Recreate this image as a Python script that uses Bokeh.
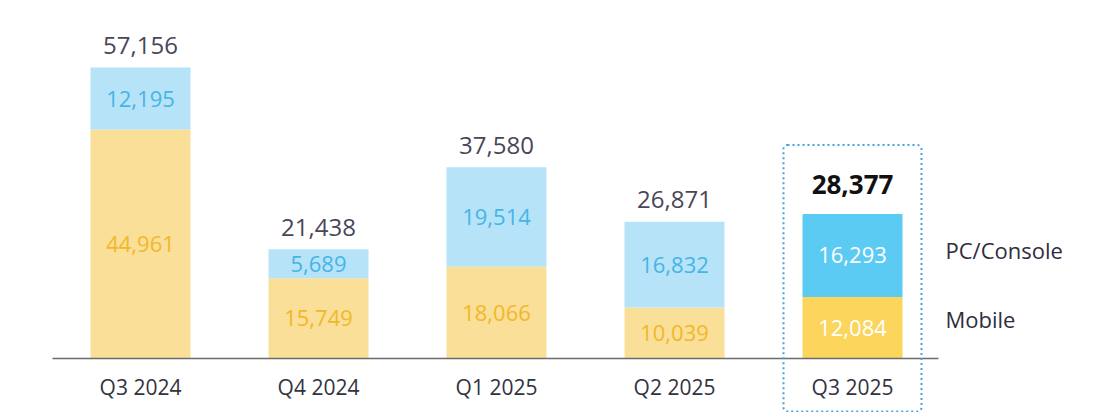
from bokeh.plotting import figure
from bokeh.models import ColumnDataSource, BoxAnnotation, Range1d
from bokeh.core.properties import value
from bokeh.embed import file_html
from bokeh.resources import INLINE

quarters = ["Q3 2024", "Q4 2024", "Q1 2025", "Q2 2025", "Q3 2025"]
mobile = [44961, 15749, 18066, 10039, 12084]
pc_console = [12195, 5689, 19514, 16832, 16293]
totals = [57156, 21438, 37580, 26871, 28377]

FONT = "Open Sans"
W, H = 1100, 412
scale = 291 / 57156.0          # px per unit
x0_px, step_px = 140.0, 178.0  # centre of first bar, spacing
base_px = 358.0                # baseline from top

p = figure(width=W, height=H, output_backend="svg", toolbar_location=None,
           min_border=0, border_fill_color="white", outline_line_color=None,
           x_range=Range1d(-x0_px / step_px, (W - x0_px) / step_px),
           y_range=Range1d(-(H - base_px) / scale, base_px / scale))
p.xaxis.visible = False
p.yaxis.visible = False
p.grid.visible = False

n = len(quarters)
xs = list(range(n))
last = n - 1
mob_fill = ["#f9df97"] * last + ["#fbd55c"]
pc_fill = ["#b6e3f8"] * last + ["#5ccbf3"]
mob_lbl = ["#f2b82a"] * last + ["#ffffff"]
pc_lbl = ["#45b5e6"] * last + ["#ffffff"]

src = ColumnDataSource(dict(
    x=xs, q=quarters, mob=mobile, pc=pc_console, tot=totals,
    pc_top=[m + c for m, c in zip(mobile, pc_console)],
    mob_mid=[m / 2 for m in mobile],
    pc_mid=[m + c / 2 for m, c in zip(mobile, pc_console)],
    mob_txt=[f"{v:,}" for v in mobile],
    pc_txt=[f"{v:,}" for v in pc_console],
    mob_fill=mob_fill, pc_fill=pc_fill, mob_lbl=mob_lbl, pc_lbl=pc_lbl,
    zero=[0] * n,
))

bw = 100 / step_px
p.vbar(x="x", bottom="zero", top="mob", width=bw, fill_color="mob_fill",
       line_color=None, source=src)
p.vbar(x="x", bottom="mob", top="pc_top", width=bw, fill_color="pc_fill",
       line_color=None, source=src)

# baseline
p.segment(x0=[-88 / step_px], y0=[0], x1=[798 / step_px], y1=[0],
          line_color="#6b6b6b", line_width=1.5)

# segment labels
p.text(x="x", y="mob_mid", text="mob_txt", source=src, text_color="mob_lbl",
       text_font=value(FONT), text_font_size="22px", text_align="center",
       text_baseline="middle")
p.text(x="x", y="pc_mid", text="pc_txt", source=src, text_color="pc_lbl",
       text_font=value(FONT), text_font_size="22px", text_align="center",
       text_baseline="middle")

# totals
src_prev = ColumnDataSource(dict(x=xs[:last], y=totals[:last],
                                 t=[f"{v:,}" for v in totals[:last]]))
p.text(x="x", y="y", text="t", source=src_prev, text_color="#4a4658",
       text_font=value(FONT), text_font_size="24px", text_align="center",
       text_baseline="middle", y_offset=-22)
p.text(x=[xs[last]], y=[totals[last]], text=[f"{totals[last]:,}"],
       text_color="#111111", text_font=value(FONT), text_font_size="26px",
       text_font_style="bold", text_align="center", text_baseline="middle",
       y_offset=-30)

# category labels
p.text(x="x", y="zero", text="q", source=src, text_color="#33323f",
       text_font=value(FONT), text_font_size="21px", text_align="center",
       text_baseline="middle", y_offset=28)

# legend texts
p.text(x=[xs[last]], y=[mobile[last] + pc_console[last] / 2],
       text=["PC/Console"], text_color="#2f2d3d", text_font=value(FONT),
       text_font_size="22px", text_align="left", text_baseline="middle",
       x_offset=93, y_offset=-5)
p.text(x=[xs[last]], y=[mobile[last] / 2], text=["Mobile"],
       text_color="#2f2d3d", text_font=value(FONT), text_font_size="22px",
       text_align="left", text_baseline="middle", x_offset=93, y_offset=-9)

# dotted highlight box
hw = 69 / step_px
box = BoxAnnotation(left=last - hw, right=last + hw,
                    top=totals[last] + 69 / scale, bottom=-53 / scale,
                    fill_alpha=0, line_color="#4aa3d6", line_alpha=1.0,
                    line_width=2, line_dash="2 3", border_radius=4)
p.add_layout(box)

open("out.html", "w").write(file_html(p, INLINE))
